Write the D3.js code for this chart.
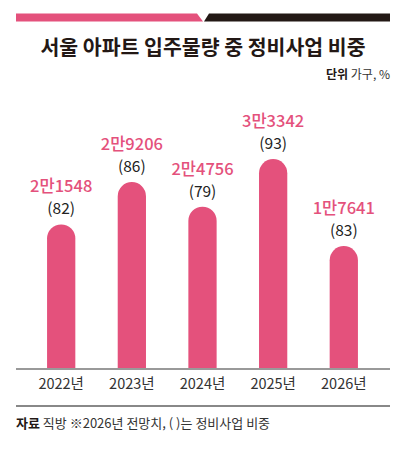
<!DOCTYPE html>
<html><head><meta charset="utf-8">
<script src="https://cdn.jsdelivr.net/npm/d3@7"></script>
<style>
html,body{margin:0;padding:0;background:#fff;}
svg{display:block;font-family:"Noto Sans CJK KR","Noto Sans",sans-serif;}
</style></head>
<body>
<svg id="chart" width="405" height="449"></svg>
<script>
const years = ["2022년","2023년","2024년","2025년","2026년"];
const units = [21548, 29206, 24756, 33342, 17641];
const unitLabels = ["2만1548","2만9206","2만4756","3만3342","1만7641"];
const shares = [82, 86, 79, 93, 83];

const PINK = "#E4517C", DARK = "#231815";
const svg = d3.select("#chart");

// top stripe
svg.append("polygon").attr("points","16,13.5 197,13.5 203,21.5 16,21.5").attr("fill",PINK);
svg.append("polygon").attr("points","209,13.5 390,13.5 390,21.5 204,21.5").attr("fill",DARK);

// title
svg.append("text").attr("x",203).attr("y",55).attr("text-anchor","middle")
  .attr("font-size",20.5).attr("font-weight",700).attr("fill",DARK)
  .text("서울 아파트 입주물량 중 정비사업 비중");

// unit
const u = svg.append("text").attr("x",390).attr("y",79).attr("text-anchor","end")
  .attr("font-size",12).attr("fill","#333");
u.append("tspan").attr("font-weight",700).attr("fill",DARK).text("단위");
u.append("tspan").text(" 가구, %");

const base = 368;
const x = d3.scaleBand().domain(years).range([40,365]).paddingInner(0.6).paddingOuter(0.1);
const y = d3.scaleLinear().domain([-4400, 36000]).range([base, 144.4]);
const bw = x.bandwidth(), r = bw/2;

const data = years.map((d,i)=>({year:d, v:units[i], lab:unitLabels[i], s:shares[i]}));

svg.append("g").selectAll("path").data(data).join("path")
  .attr("fill",PINK)
  .attr("d", d => {
    const x0 = x(d.year), top = y(d.v);
    return `M${x0},${base} V${top+r} A${r},${r} 0 0 1 ${x0+bw},${top+r} V${base} Z`;
  });

svg.append("g").selectAll("text").data(data).join("text")
  .attr("x", d => x(d.year)+bw/2).attr("y", d => y(d.v)-32)
  .attr("text-anchor","middle").attr("font-size",16.5).attr("font-weight",500)
  .attr("fill",PINK).text(d => d.lab);

svg.append("g").selectAll("text").data(data).join("text")
  .attr("x", d => x(d.year)+bw/2).attr("y", d => y(d.v)-10)
  .attr("text-anchor","middle").attr("font-size",15.5)
  .attr("fill","#222").text(d => `(${d.s})`);

// axis
const ax = svg.append("g").attr("transform",`translate(0,${base})`)
  .call(d3.axisBottom(x).tickSize(0).tickPadding(11));
ax.select(".domain").remove();
ax.selectAll("text").attr("font-size",14.5).attr("fill","#333")
  .attr("font-family",'"Noto Sans CJK KR","Noto Sans",sans-serif');
svg.append("line").attr("x1",16).attr("x2",390).attr("y1",base+1).attr("y2",base+1)
  .attr("stroke","#999").attr("stroke-width",2);

// bottom separator
svg.append("line").attr("x1",16).attr("x2",390).attr("y1",406).attr("y2",406)
  .attr("stroke","#888").attr("stroke-width",2);

const f = svg.append("text").attr("x",16).attr("y",428).attr("font-size",13).attr("fill","#333");
f.append("tspan").attr("font-weight",700).attr("fill",DARK).text("자료");
f.append("tspan").text(" 직방 ※2026년 전망치, ( )는 정비사업 비중");
</script>
</body></html>
